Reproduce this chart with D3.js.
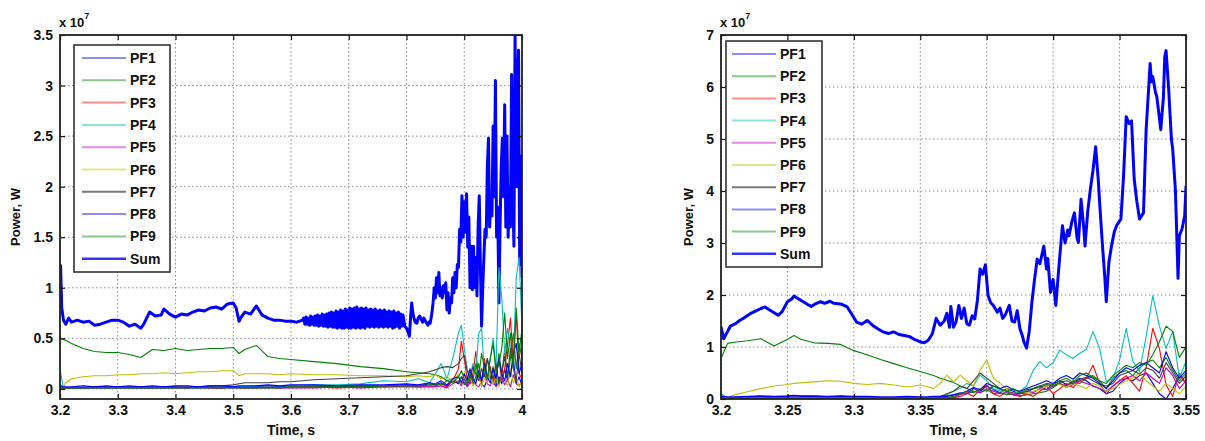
<!DOCTYPE html>
<html>
<head>
<meta charset="utf-8">
<script src="https://cdn.jsdelivr.net/npm/d3@7"></script>
<style>
  body { margin: 0; background: #fff; }
  text { font-family: "Liberation Sans", Arial, sans-serif; font-weight: bold; fill: #111; }
</style>
</head>
<body>
<svg id="chart" width="1205" height="441"></svg>
<script>
// ---------------- data (values in units of 1e7 W) ----------------
const seriesNames = ["PF1", "PF2", "PF3", "PF4", "PF5", "PF6", "PF7", "PF8", "PF9", "Sum"];
const seriesColors = ["#0000ff", "#008000", "#ff0000", "#00bfbf", "#bf00bf", "#bfbf00", "#404040", "#0000ff", "#008000", "#0000ff"];

// left panel: 3.2 .. 4.0 s
const leftXTicks = [3.2, 3.3, 3.4, 3.5, 3.6, 3.7, 3.8, 3.9, 4.0];
const leftXLabels = ["3.2", "3.3", "3.4", "3.5", "3.6", "3.7", "3.8", "3.9", "4"];
const leftYTicks = [0, 0.5, 1, 1.5, 2, 2.5, 3, 3.5];
const leftYLabels = ["0", "0.5", "1", "1.5", "2", "2.5", "3", "3.5"];

const leftTime = [3.200,3.205,3.210,3.220,3.240,3.260,3.280,3.300,3.320,3.340,
  3.360,3.380,3.400,3.420,3.440,3.460,3.480,3.500,3.510,3.520,
  3.540,3.560,3.580,3.600,3.640,3.680,3.720,3.760,3.800,3.820,
  3.840,3.850,3.860,3.870,3.880,3.890,3.895,3.900,3.905,3.910,
  3.915,3.920,3.925,3.930,3.935,3.940,3.945,3.950,3.955,3.960,
  3.965,3.970,3.975,3.980,3.985,3.990,3.995,4.000];
const leftPF1 = [0.03,0.01,0.01,0.01,0.01,0.02,0.01,0.02,0.01,0.02,
  0.01,0.02,0.02,0.01,0.02,0.02,0.01,0.02,0.02,0.02,
  0.02,0.03,0.02,0.03,0.03,0.02,0.03,0.03,0.04,0.03,
  0.05,0.04,0.06,0.03,0.08,0.05,0.12,0.06,0.03,0.10,
  0.04,0.08,0.15,0.05,0.02,0.10,0.18,0.06,0.03,0.12,
  0.05,0.20,0.08,0.15,0.30,0.05,0.12,0.03];
const leftPF2 = [0.50,0.49,0.48,0.45,0.40,0.37,0.36,0.36,0.34,0.31,
  0.39,0.38,0.40,0.38,0.39,0.40,0.40,0.41,0.35,0.39,
  0.43,0.32,0.30,0.29,0.27,0.25,0.22,0.20,0.17,0.16,
  0.15,0.14,0.12,0.08,0.10,0.06,0.12,0.04,0.10,0.18,
  0.05,0.12,0.25,0.08,0.15,0.30,0.10,0.22,0.05,0.35,
  0.15,0.40,0.10,0.30,0.55,0.20,0.45,0.30];
const leftPF3 = [0.02,0.01,0.01,0.01,0.01,0.01,0.01,0.01,0.01,0.01,
  0.01,0.01,0.01,0.01,0.02,0.01,0.01,0.02,0.01,0.01,
  0.01,0.02,0.01,0.02,0.02,0.01,0.02,0.02,0.03,0.02,
  0.03,0.03,0.05,0.02,0.08,0.20,0.47,0.30,0.10,0.05,
  0.15,0.37,0.12,0.05,0.30,0.10,0.22,0.05,0.15,0.30,
  0.08,0.20,0.45,0.70,0.25,0.75,0.15,0.10];
const leftPF4 = [0.20,0.03,0.01,0.01,0.01,0.01,0.01,0.01,0.01,0.01,
  0.01,0.01,0.01,0.01,0.01,0.02,0.02,0.02,0.02,0.02,
  0.03,0.03,0.03,0.03,0.04,0.04,0.05,0.08,0.07,0.10,
  0.06,0.15,0.25,0.10,0.30,0.55,0.63,0.40,0.20,0.12,
  0.25,0.18,0.55,0.60,0.15,0.08,0.30,0.50,0.20,1.20,
  0.90,0.35,0.60,0.40,0.25,1.10,1.30,0.60];
const leftPF5 = [0.01,0.00,0.01,0.01,0.01,0.01,0.01,0.01,0.01,0.01,
  0.01,0.01,0.01,0.01,0.01,0.01,0.01,0.01,0.01,0.01,
  0.01,0.01,0.01,0.01,0.01,0.02,0.01,0.02,0.02,0.02,
  0.02,0.02,0.03,0.01,0.05,0.08,0.03,0.10,0.02,0.06,
  0.12,0.04,0.02,0.08,0.15,0.05,0.03,0.10,0.02,0.07,
  0.12,0.04,0.09,0.02,0.14,0.05,0.03,0.08];
const leftPF6 = [0.02,0.00,0.06,0.10,0.12,0.13,0.13,0.14,0.14,0.15,
  0.15,0.16,0.15,0.16,0.17,0.17,0.18,0.18,0.13,0.15,
  0.15,0.15,0.14,0.15,0.14,0.14,0.13,0.13,0.12,0.13,
  0.12,0.14,0.10,0.12,0.08,0.14,0.05,0.16,0.06,0.12,
  0.03,0.08,0.14,0.02,0.10,0.06,0.18,0.04,0.12,0.02,
  0.15,0.08,0.03,0.20,0.06,0.12,0.02,0.08];
const leftPF7 = [0.02,0.01,0.01,0.01,0.01,0.02,0.02,0.02,0.02,0.02,
  0.02,0.02,0.02,0.02,0.02,0.03,0.03,0.04,0.05,0.06,
  0.06,0.06,0.07,0.07,0.09,0.10,0.11,0.12,0.13,0.15,
  0.17,0.19,0.21,0.22,0.21,0.25,0.30,0.33,0.18,0.10,
  0.22,0.15,0.08,0.20,0.12,0.30,0.18,0.10,0.25,0.05,
  0.15,0.32,0.12,0.40,0.20,0.08,0.35,0.15];
const leftPF8 = [0.04,0.02,0.02,0.02,0.03,0.02,0.03,0.02,0.03,0.02,
  0.03,0.02,0.03,0.03,0.02,0.03,0.03,0.02,0.03,0.03,
  0.03,0.04,0.03,0.04,0.04,0.03,0.04,0.04,0.05,0.04,
  0.06,0.05,0.08,0.04,0.10,0.12,0.06,0.15,0.08,0.20,
  0.10,0.05,0.18,0.08,0.25,0.12,0.06,0.20,0.10,0.30,
  0.15,0.08,0.25,0.12,0.35,0.45,0.15,0.25];
const leftPF9 = [0.02,0.01,0.01,0.01,0.01,0.01,0.01,0.01,0.01,0.01,
  0.01,0.01,0.01,0.01,0.01,0.01,0.01,0.01,0.01,0.01,
  0.01,0.01,0.01,0.02,0.02,0.02,0.02,0.03,0.03,0.03,
  0.04,0.05,0.04,0.08,0.06,0.12,0.18,0.10,0.05,0.15,
  0.08,0.25,0.12,0.35,0.20,0.10,0.30,0.45,0.15,0.25,
  0.40,0.75,0.30,0.55,0.20,0.80,0.35,0.60];
// Sum as [time, value] pairs
const leftSum = [
  [3.200,0.95],[3.201,1.22],[3.203,0.80],[3.206,0.68],[3.210,0.64],[3.215,0.70],[3.220,0.66],[3.230,0.68],
  [3.240,0.66],[3.250,0.67],[3.260,0.63],[3.270,0.64],[3.280,0.66],[3.290,0.68],[3.300,0.68],[3.310,0.66],
  [3.320,0.62],[3.330,0.64],[3.340,0.60],[3.345,0.64],[3.355,0.76],[3.365,0.72],[3.375,0.73],[3.380,0.79],
  [3.390,0.74],[3.400,0.71],[3.410,0.74],[3.420,0.73],[3.430,0.76],[3.440,0.78],[3.450,0.77],[3.460,0.80],
  [3.470,0.81],[3.480,0.79],[3.490,0.84],[3.500,0.85],[3.505,0.80],[3.510,0.67],[3.515,0.72],[3.520,0.76],
  [3.530,0.74],[3.540,0.82],[3.550,0.73],[3.560,0.70],[3.570,0.68],[3.580,0.68],[3.590,0.67],[3.600,0.67],
  [3.610,0.66],[3.620,0.68],
  [3.622,0.70],[3.624,0.64],[3.626,0.71],[3.628,0.64],[3.630,0.70],[3.632,0.63],[3.634,0.72],[3.636,0.64],
  [3.638,0.71],[3.640,0.63],[3.642,0.72],[3.644,0.63],[3.646,0.73],[3.648,0.62],[3.650,0.72],[3.652,0.63],
  [3.654,0.74],[3.656,0.62],[3.658,0.73],[3.660,0.62],[3.662,0.74],[3.664,0.61],[3.666,0.75],[3.668,0.62],
  [3.670,0.76],[3.672,0.61],[3.674,0.75],[3.676,0.61],[3.678,0.77],[3.680,0.60],[3.682,0.76],[3.684,0.61],
  [3.686,0.78],[3.688,0.60],[3.690,0.77],[3.692,0.60],[3.694,0.79],[3.696,0.61],[3.698,0.78],[3.700,0.60],
  [3.702,0.80],[3.704,0.60],[3.706,0.79],[3.708,0.61],[3.710,0.80],[3.712,0.60],[3.714,0.81],[3.716,0.61],
  [3.718,0.79],[3.720,0.60],[3.722,0.80],[3.724,0.61],[3.726,0.79],[3.728,0.60],[3.730,0.80],[3.732,0.62],
  [3.734,0.78],[3.736,0.61],[3.738,0.79],[3.740,0.62],[3.742,0.78],[3.744,0.61],[3.746,0.79],[3.748,0.62],
  [3.750,0.77],[3.752,0.61],[3.754,0.78],[3.756,0.62],[3.758,0.77],[3.760,0.61],[3.762,0.78],[3.764,0.62],
  [3.766,0.76],[3.768,0.61],[3.770,0.77],[3.772,0.62],[3.774,0.76],[3.776,0.60],[3.778,0.77],[3.780,0.61],
  [3.782,0.75],[3.784,0.62],[3.786,0.76],[3.788,0.60],[3.790,0.74],[3.792,0.62],[3.794,0.73],
  [3.797,0.62],[3.800,0.60],[3.803,0.56],[3.805,0.52],[3.807,0.70],[3.809,0.85],[3.811,0.75],[3.813,0.70],
  [3.815,0.66],[3.818,0.65],[3.820,0.70],[3.823,0.72],[3.826,0.68],[3.828,0.66],[3.830,0.70],[3.832,0.68],
  [3.835,0.65],[3.837,0.63],[3.839,0.66],[3.841,0.65],[3.844,0.75],
  [3.846,0.85],[3.848,1.00],[3.850,0.90],[3.852,1.10],[3.854,0.95],[3.856,1.15],[3.858,0.92],[3.860,1.00],
  [3.862,0.90],[3.864,1.02],[3.866,0.95],[3.868,1.05],[3.870,0.78],[3.872,0.95],[3.874,0.75],[3.876,0.90],
  [3.878,0.85],[3.880,1.10],[3.882,0.95],[3.884,1.15],[3.886,1.00],[3.888,1.23],[3.890,1.20],[3.892,1.58],
  [3.894,1.45],[3.896,1.91],[3.898,1.50],[3.900,1.85],[3.902,1.55],[3.904,1.93],[3.906,1.40],[3.908,1.70],
  [3.910,1.00],[3.912,1.41],[3.914,0.98],[3.916,1.41],[3.918,1.00],[3.920,1.30],[3.922,0.92],[3.924,1.60],
  [3.926,1.91],[3.928,1.20],[3.930,0.62],[3.932,1.00],[3.934,1.30],[3.936,1.58],[3.938,1.50],[3.940,2.20],
  [3.942,2.48],[3.944,1.60],[3.946,1.90],[3.948,1.71],[3.950,2.60],[3.952,1.90],[3.954,3.05],[3.956,1.50],
  [3.958,1.80],[3.960,0.85],[3.962,1.60],[3.964,2.20],[3.966,2.48],[3.968,1.90],[3.970,2.81],[3.972,1.60],
  [3.974,2.50],[3.976,1.50],[3.978,2.00],[3.980,1.60],[3.982,3.11],[3.984,2.00],[3.986,1.41],[3.988,3.50],
  [3.990,2.00],[3.992,2.90],[3.994,3.35],[3.996,1.23],[3.998,2.30],[4.000,1.10]
];

// right panel: 3.2 .. 3.55 s
const rightXTicks = [3.2, 3.25, 3.3, 3.35, 3.4, 3.45, 3.5, 3.55];
const rightXLabels = ["3.2", "3.25", "3.3", "3.35", "3.4", "3.45", "3.5", "3.55"];
const rightYTicks = [0, 1, 2, 3, 4, 5, 6, 7];
const rightYLabels = ["0", "1", "2", "3", "4", "5", "6", "7"];

const rightTime = [3.200,3.205,3.210,3.220,3.230,3.240,3.250,3.255,3.260,3.270,
  3.280,3.290,3.300,3.310,3.320,3.330,3.340,3.350,3.355,3.360,
  3.365,3.370,3.375,3.380,3.385,3.390,3.395,3.400,3.405,3.410,
  3.415,3.420,3.425,3.430,3.435,3.440,3.445,3.450,3.455,3.460,
  3.465,3.470,3.475,3.480,3.485,3.490,3.495,3.500,3.505,3.510,
  3.515,3.520,3.525,3.530,3.535,3.540,3.545,3.550];
const rightPF1 = [0.04,0.03,0.03,0.04,0.05,0.04,0.05,0.06,0.05,0.05,
  0.04,0.05,0.04,0.04,0.03,0.03,0.04,0.03,0.03,0.04,
  0.04,0.05,0.08,0.12,0.10,0.20,0.15,0.25,0.18,0.12,
  0.20,0.15,0.10,0.12,0.20,0.25,0.18,0.30,0.35,0.28,
  0.30,0.40,0.35,0.25,0.20,0.10,0.15,0.30,0.40,0.35,
  0.45,0.50,0.30,0.10,0.00,0.20,0.45,0.30];
const rightPF2 = [0.78,1.07,1.09,1.12,1.16,1.02,1.15,1.22,1.15,1.08,
  1.07,1.05,0.93,0.85,0.76,0.68,0.60,0.53,0.49,0.45,
  0.40,0.36,0.32,0.25,0.20,0.15,0.12,0.18,0.10,0.12,
  0.08,0.10,0.06,0.08,0.10,0.12,0.15,0.22,0.30,0.25,
  0.35,0.30,0.40,0.45,0.35,0.20,0.40,0.50,0.55,0.45,
  0.60,0.70,0.75,0.60,0.80,0.55,0.35,0.50];
const rightPF3 = [0.03,0.02,0.02,0.02,0.02,0.03,0.02,0.02,0.02,0.02,
  0.02,0.02,0.02,0.02,0.02,0.02,0.02,0.02,0.02,0.02,
  0.03,0.02,0.03,0.08,0.12,0.05,0.18,0.27,0.10,0.05,
  0.15,0.08,0.05,0.10,0.05,0.15,0.25,0.10,0.20,0.30,
  0.22,0.35,0.40,0.65,0.30,0.10,0.25,0.35,0.45,0.30,
  0.15,0.60,1.36,0.97,0.27,0.05,0.50,0.30];
const rightPF4 = [0.10,0.02,0.01,0.01,0.01,0.01,0.01,0.01,0.01,0.01,
  0.01,0.01,0.01,0.01,0.01,0.01,0.01,0.02,0.02,0.03,
  0.05,0.08,0.15,0.20,0.30,0.25,0.46,0.35,0.20,0.15,
  0.12,0.10,0.15,0.25,0.55,0.72,0.60,0.70,0.94,0.85,
  0.78,0.88,0.95,1.30,0.97,0.34,0.40,0.75,1.36,0.72,
  0.53,1.20,1.99,1.40,0.97,1.30,0.40,0.72];
const rightPF5 = [0.02,0.02,0.02,0.02,0.02,0.02,0.02,0.02,0.02,0.02,
  0.02,0.02,0.02,0.02,0.02,0.02,0.02,0.02,0.02,0.02,
  0.02,0.02,0.02,0.05,0.10,0.15,0.12,0.20,0.15,0.10,
  0.12,0.08,0.10,0.15,0.12,0.20,0.18,0.25,0.30,0.22,
  0.28,0.35,0.30,0.25,0.20,0.15,0.25,0.35,0.40,0.45,
  0.35,0.50,0.40,0.30,0.60,0.45,0.20,0.35];
const rightPF6 = [0.05,0.02,0.08,0.14,0.20,0.25,0.28,0.30,0.31,0.33,
  0.35,0.34,0.30,0.28,0.30,0.27,0.23,0.27,0.24,0.20,
  0.30,0.46,0.33,0.46,0.35,0.25,0.55,0.75,0.40,0.30,
  0.20,0.18,0.15,0.12,0.15,0.18,0.25,0.30,0.28,0.22,
  0.30,0.25,0.20,0.30,0.25,0.15,0.20,0.28,0.35,0.40,
  0.50,0.35,0.25,0.15,0.30,0.20,0.10,0.25];
const rightPF7 = [0.01,0.01,0.01,0.01,0.01,0.01,0.01,0.01,0.01,0.01,
  0.01,0.01,0.01,0.01,0.01,0.01,0.01,0.01,0.01,0.01,
  0.05,0.10,0.15,0.25,0.20,0.35,0.50,0.40,0.30,0.20,
  0.15,0.12,0.10,0.15,0.20,0.22,0.28,0.25,0.32,0.35,
  0.30,0.38,0.42,0.35,0.28,0.25,0.30,0.45,0.50,0.55,
  0.48,0.60,0.55,0.40,0.70,0.50,0.30,0.45];
const rightPF8 = [0.05,0.04,0.04,0.05,0.06,0.05,0.06,0.07,0.06,0.06,
  0.05,0.06,0.05,0.05,0.04,0.04,0.05,0.04,0.04,0.05,
  0.05,0.06,0.08,0.10,0.15,0.22,0.18,0.30,0.25,0.20,
  0.25,0.18,0.15,0.20,0.25,0.30,0.35,0.30,0.40,0.45,
  0.38,0.50,0.45,0.40,0.30,0.20,0.35,0.50,0.60,0.55,
  0.65,0.70,0.60,0.50,0.91,0.60,0.40,0.55];
const rightPF9 = [0.02,0.02,0.02,0.02,0.02,0.02,0.02,0.02,0.02,0.02,
  0.02,0.02,0.02,0.02,0.02,0.02,0.02,0.02,0.02,0.02,
  0.02,0.03,0.05,0.10,0.15,0.12,0.20,0.15,0.25,0.18,
  0.15,0.20,0.12,0.18,0.20,0.25,0.30,0.28,0.35,0.40,
  0.32,0.45,0.50,0.42,0.35,0.30,0.45,0.55,0.65,0.60,
  0.70,0.65,0.85,1.10,1.40,1.30,0.80,1.00];
const rightSum = [
  [3.200,1.39],[3.202,1.16],[3.205,1.30],[3.207,1.40],[3.211,1.45],[3.214,1.51],[3.218,1.57],[3.222,1.64],
  [3.226,1.69],[3.230,1.74],[3.233,1.77],[3.236,1.72],[3.240,1.66],[3.243,1.61],[3.246,1.68],[3.250,1.87],
  [3.253,1.92],[3.255,1.98],[3.258,1.93],[3.262,1.87],[3.265,1.82],[3.268,1.78],[3.271,1.83],[3.275,1.87],
  [3.278,1.84],[3.282,1.88],[3.285,1.84],[3.288,1.83],[3.291,1.82],[3.295,1.77],[3.298,1.65],[3.302,1.48],
  [3.306,1.44],[3.310,1.51],[3.314,1.42],[3.318,1.35],[3.322,1.29],[3.326,1.26],[3.330,1.29],[3.334,1.24],
  [3.338,1.22],[3.342,1.20],[3.346,1.14],[3.350,1.10],[3.353,1.08],[3.356,1.13],[3.359,1.25],[3.362,1.55],
  [3.365,1.42],[3.368,1.50],[3.370,1.65],[3.372,1.38],[3.373,1.78],[3.375,1.38],[3.377,1.49],[3.379,1.80],
  [3.381,1.55],[3.383,1.75],[3.385,1.45],[3.387,1.42],[3.389,1.60],[3.391,1.54],[3.393,1.90],[3.395,2.50],
  [3.397,2.40],[3.399,2.58],[3.401,1.99],[3.403,1.85],[3.405,1.80],[3.408,1.67],[3.410,1.75],[3.412,1.55],
  [3.414,1.62],[3.417,1.80],[3.419,1.50],[3.421,1.48],[3.423,1.70],[3.425,1.35],[3.427,1.20],[3.428,1.10],
  [3.430,0.98],[3.432,1.30],[3.434,1.86],[3.436,2.30],[3.438,2.69],[3.440,2.60],[3.443,2.94],[3.445,2.50],
  [3.446,2.70],[3.448,2.05],[3.450,2.30],[3.452,1.80],[3.453,2.12],[3.455,2.75],[3.457,3.33],[3.459,3.00],
  [3.461,3.25],[3.462,3.14],[3.464,3.40],[3.466,3.58],[3.468,3.10],[3.469,3.01],[3.471,3.84],[3.473,3.30],
  [3.474,2.94],[3.476,3.60],[3.478,4.03],[3.480,4.40],[3.482,4.85],[3.484,4.20],[3.485,3.77],[3.487,3.00],
  [3.489,2.30],[3.490,1.87],[3.492,2.64],[3.494,2.95],[3.496,3.21],[3.498,3.35],[3.501,3.46],[3.503,4.29],
  [3.505,5.43],[3.507,5.30],[3.509,5.35],[3.511,4.23],[3.513,3.80],[3.515,3.46],[3.518,3.58],[3.520,5.18],
  [3.523,6.45],[3.524,6.10],[3.525,6.20],[3.527,5.90],[3.528,5.82],[3.530,5.40],[3.531,5.18],[3.533,5.80],
  [3.534,6.57],[3.535,6.70],[3.537,5.94],[3.539,5.00],[3.540,4.80],[3.542,4.03],[3.543,3.20],[3.544,2.32],
  [3.545,3.14],[3.547,3.27],[3.549,3.52],[3.550,4.10]
];

// ---------------- drawing ----------------
const svg = d3.select("#chart");
svg.append("rect").attr("width", 1205).attr("height", 441).attr("fill", "#fff");

function pairs(times, vals) {
  return times.map((t, i) => ({ t: t, v: vals[i] })).filter(d => d.v != null);
}

function drawPanel(p) {
  const x = d3.scaleLinear().domain(p.xDomain).range([p.left, p.right]);
  const y = d3.scaleLinear().domain(p.yDomain).range([p.bottom, p.top]);
  const w = p.right - p.left, h = p.bottom - p.top;
  const g = svg.append("g");

  // dotted grid
  const grid = g.append("g").attr("class", "grid");
  grid.selectAll("line.gx").data(p.xTicks).enter().append("line")
    .attr("x1", d => x(d)).attr("x2", d => x(d))
    .attr("y1", p.top).attr("y2", p.bottom);
  grid.selectAll("line.gy").data(p.yTicks).enter().append("line")
    .attr("x1", p.left).attr("x2", p.right)
    .attr("y1", d => y(d)).attr("y2", d => y(d));
  grid.selectAll("line")
    .attr("stroke", "#8a8a8a").attr("stroke-width", 1)
    .attr("stroke-dasharray", "1.5,2.5");

  // clipped plot lines
  g.append("clipPath").attr("id", p.id + "clip")
    .append("rect").attr("x", p.left).attr("y", p.top).attr("width", w).attr("height", h);
  const plot = g.append("g").attr("clip-path", "url(#" + p.id + "clip)");
  const line = d3.line().x(d => x(d.t)).y(d => y(d.v));

  plot.append("path")
    .attr("d", line(p.sum.map(d => ({ t: d[0], v: d[1] }))))
    .attr("fill", "none").attr("stroke", seriesColors[9])
    .attr("stroke-width", 3).attr("stroke-linejoin", "round");

  p.pf.forEach((vals, i) => {
    plot.append("path")
      .attr("d", line(pairs(p.time, vals)))
      .attr("fill", "none").attr("stroke", seriesColors[i])
      .attr("stroke-width", 1.1).attr("stroke-linejoin", "round");
  });

  // axes: ticks pointing inward on all four sides
  const axB = g.append("g").attr("transform", "translate(0," + p.bottom + ")")
    .call(d3.axisBottom(x).tickValues(p.xTicks).tickFormat((d, i) => p.xLabels[i])
      .tickSizeInner(-5).tickSizeOuter(0).tickPadding(6));
  const axL = g.append("g").attr("transform", "translate(" + p.left + ",0)")
    .call(d3.axisLeft(y).tickValues(p.yTicks).tickFormat((d, i) => p.yLabels[i])
      .tickSizeInner(-5).tickSizeOuter(0).tickPadding(7));
  const axT = g.append("g").attr("transform", "translate(0," + p.top + ")")
    .call(d3.axisTop(x).tickValues(p.xTicks).tickFormat("").tickSizeInner(-5).tickSizeOuter(0));
  const axR = g.append("g").attr("transform", "translate(" + p.right + ",0)")
    .call(d3.axisRight(y).tickValues(p.yTicks).tickFormat("").tickSizeInner(-5).tickSizeOuter(0));
  [axB, axL, axT, axR].forEach(a => {
    a.select(".domain").remove();
    a.selectAll(".tick line").attr("stroke", "#111").attr("stroke-width", 1.2);
    a.selectAll(".tick text").attr("font-size", 14).attr("font-family", null).attr("fill", null);
    a.attr("font-family", null).attr("font-size", null);
  });

  // frame
  g.append("rect").attr("x", p.left).attr("y", p.top).attr("width", w).attr("height", h)
    .attr("fill", "none").attr("stroke", "#222").attr("stroke-width", 1.8);

  // exponent label
  const ex = g.append("text").attr("x", p.left - 1).attr("y", p.top - 8).attr("font-size", 13);
  ex.append("tspan").text("x 10");
  ex.append("tspan").attr("dy", -8).attr("font-size", 9).text("7");

  // axis titles
  g.append("text").attr("x", (p.left + p.right) / 2).attr("y", 435)
    .attr("text-anchor", "middle").attr("font-size", 14).text("Time, s");
  g.append("text")
    .attr("transform", "translate(" + p.yTitleX + "," + ((p.top + p.bottom) / 2) + ") rotate(-90)")
    .attr("text-anchor", "middle").attr("dy", "0.35em").attr("font-size", 13).text("Power, W");

  // legend
  const L = p.legend;
  const lg = g.append("g");
  lg.append("rect").attr("x", L.x).attr("y", L.y).attr("width", L.w).attr("height", L.h)
    .attr("fill", "#fff").attr("stroke", "#333").attr("stroke-width", 1.6);
  seriesNames.forEach((name, i) => {
    const yy = L.row0 + i * L.step;
    lg.append("line").attr("x1", L.x1).attr("x2", L.x2).attr("y1", yy).attr("y2", yy)
      .attr("stroke", seriesColors[i])
      .attr("stroke-width", i === 9 ? 2.6 : 2)
      .attr("stroke-opacity", i === 9 ? 0.8 : (i === 6 ? 0.7 : 0.45));
    lg.append("text").attr("x", L.tx).attr("y", yy).attr("dy", "0.36em")
      .attr("font-size", 14).text(name);
  });
}

drawPanel({
  id: "left", left: 60, right: 522, top: 35, bottom: 399,
  xDomain: [3.2, 4.0], yDomain: [-0.1, 3.5],
  xTicks: leftXTicks, xLabels: leftXLabels, yTicks: leftYTicks, yLabels: leftYLabels,
  time: leftTime,
  pf: [leftPF1, leftPF2, leftPF3, leftPF4, leftPF5, leftPF6, leftPF7, leftPF8, leftPF9],
  sum: leftSum,
  yTitleX: 15,
  legend: { x: 74, y: 45, w: 96, h: 227, row0: 58, step: 22.3, x1: 82, x2: 126, tx: 130 }
});

drawPanel({
  id: "right", left: 721, right: 1186, top: 35, bottom: 399,
  xDomain: [3.2, 3.55], yDomain: [0, 7],
  xTicks: rightXTicks, xLabels: rightXLabels, yTicks: rightYTicks, yLabels: rightYLabels,
  time: rightTime,
  pf: [rightPF1, rightPF2, rightPF3, rightPF4, rightPF5, rightPF6, rightPF7, rightPF8, rightPF9],
  sum: rightSum,
  yTitleX: 688,
  legend: { x: 726, y: 41, w: 96, h: 226, row0: 54, step: 22.2, x1: 732, x2: 776, tx: 780 }
});
</script>
</body>
</html>
